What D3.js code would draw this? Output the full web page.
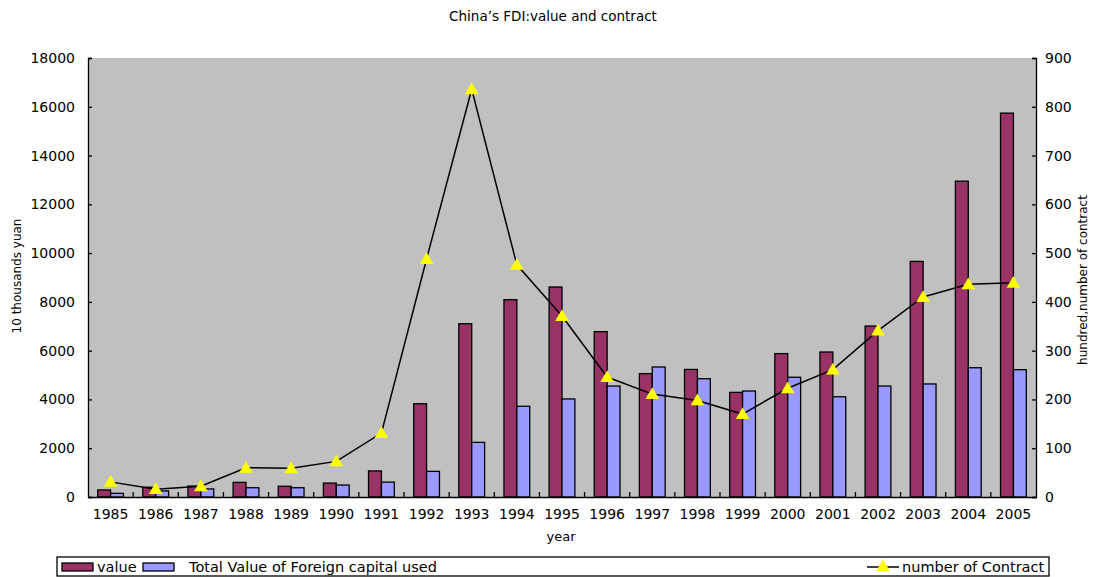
<!DOCTYPE html>
<html>
<head>
<meta charset="utf-8">
<script src="https://cdn.jsdelivr.net/npm/d3@7"></script>
<style>
  html, body { margin: 0; padding: 0; background: #fff; }
  svg text { font-family: "DejaVu Sans", sans-serif; fill: #000; }
</style>
</head>
<body>
<svg id="chart" width="1097" height="577"></svg>
<script>
// China's FDI, 1985–2005
const years = [1985,1986,1987,1988,1989,1990,1991,1992,1993,1994,1995,1996,1997,1998,1999,2000,2001,2002,2003,2004,2005];
const fdiValue = [290,400,450,600,440,570,1070,3825,7105,8090,8610,6780,5060,5230,4290,5880,5945,7010,9660,12950,15740];
const foreignCapitalUsed = [150,250,330,380,380,490,610,1050,2240,3720,4020,4550,5330,4850,4345,4910,4110,4550,4635,5300,5220];
const contracts = [31,16,22,60,59,73,131,488,836,476,371,246,211,198,170,223,261,341,410,436,439];
const leftTicks = [0,2000,4000,6000,8000,10000,12000,14000,16000,18000];
const rightTicks = [0,100,200,300,400,500,600,700,800,900];

const svg = d3.select("#chart");
const plot = { left: 88, right: 1036, top: 58, bottom: 497 };

const x = d3.scaleBand().domain(years).range([plot.left, plot.right]);
const yL = d3.scaleLinear().domain([0, 18000]).range([plot.bottom, plot.top]);
const yR = d3.scaleLinear().domain([0, 900]).range([plot.bottom, plot.top]);

// bar width for a 150% gap between clusters
const bw = x.bandwidth() / 3.5;

// plot background
svg.append("rect")
  .attr("x", plot.left).attr("y", plot.top)
  .attr("width", plot.right - plot.left).attr("height", plot.bottom - plot.top)
  .attr("fill", "#c0c0c0").attr("stroke", "none");

// title
svg.append("text").attr("x", 553).attr("y", 21).attr("text-anchor", "middle")
  .style("font-size", "13.5px").text("China’s FDI:value and contract");

// bars
const barG = svg.append("g");
barG.selectAll("rect.v").data(years).join("rect").attr("class", "v")
  .attr("x", d => x(d) + x.bandwidth() / 2 - bw)
  .attr("y", (d, i) => yL(fdiValue[i]))
  .attr("width", bw)
  .attr("height", (d, i) => plot.bottom - yL(fdiValue[i]))
  .attr("fill", "#993366").attr("stroke", "#000").attr("stroke-width", 1.3);
barG.selectAll("rect.c").data(years).join("rect").attr("class", "c")
  .attr("x", d => x(d) + x.bandwidth() / 2)
  .attr("y", (d, i) => yL(foreignCapitalUsed[i]))
  .attr("width", bw)
  .attr("height", (d, i) => plot.bottom - yL(foreignCapitalUsed[i]))
  .attr("fill", "#9999ff").attr("stroke", "#000").attr("stroke-width", 1.3);

// contract line
const line = d3.line()
  .x((d, i) => x(years[i]) + x.bandwidth() / 2)
  .y(d => yR(d));
svg.append("path").datum(contracts).attr("d", line)
  .attr("fill", "none").attr("stroke", "#000").attr("stroke-width", 1.5);

const tri = d3.symbol().type(d3.symbolTriangle).size(80);
svg.selectAll("path.m").data(contracts).join("path").attr("class", "m")
  .attr("d", tri)
  .attr("transform", (d, i) => `translate(${x(years[i]) + x.bandwidth() / 2},${yR(d) + 1})`)
  .attr("fill", "#ffff00");

// axes
const axL = svg.append("g").attr("transform", `translate(${plot.left},0)`)
  .call(d3.axisLeft(yL).tickValues(leftTicks).tickSize(-4).tickPadding(13).tickFormat(d3.format("d")));
const axR = svg.append("g").attr("transform", `translate(${plot.right},0)`)
  .call(d3.axisRight(yR).tickValues(rightTicks).tickSize(-4).tickPadding(9).tickFormat(d3.format("d")));
const axB = svg.append("g").attr("transform", `translate(0,${plot.bottom})`)
  .call(d3.axisBottom(x).tickSize(0).tickPadding(12));

[axL, axR, axB].forEach(g => {
  g.select(".domain").attr("stroke", "#000").attr("stroke-width", 1.3);
  g.selectAll(".tick line").attr("stroke", "#000").attr("stroke-width", 1.3);
  g.selectAll(".tick text").style("font-size", "14px").attr("fill", "#000");
});

// category boundary ticks on the x axis
svg.append("g").selectAll("line").data(years.slice(1)).join("line")
  .attr("x1", d => x(d)).attr("x2", d => x(d))
  .attr("y1", plot.bottom).attr("y2", plot.bottom - 5)
  .attr("stroke", "#000").attr("stroke-width", 1.3);

// axis titles
svg.append("text").attr("x", 561).attr("y", 541).attr("text-anchor", "middle")
  .style("font-size", "13px").text("year");
svg.append("text").attr("transform", "translate(21,276) rotate(-90)").attr("text-anchor", "middle")
  .style("font-size", "12px").text("10 thousands yuan");
svg.append("text").attr("transform", "translate(1087,280) rotate(-90)").attr("text-anchor", "middle")
  .style("font-size", "12px").text("hundred,number of contract");

// legend
const lg = svg.append("g");
lg.append("rect").attr("x", 57).attr("y", 557).attr("width", 992).attr("height", 19)
  .attr("fill", "#fff").attr("stroke", "#000").attr("stroke-width", 1.3);
lg.append("rect").attr("x", 62).attr("y", 563).attr("width", 31).attr("height", 8)
  .attr("fill", "#993366").attr("stroke", "#000").attr("stroke-width", 1.3);
lg.append("text").attr("x", 97).attr("y", 572).style("font-size", "14.5px").text("value");
lg.append("rect").attr("x", 143).attr("y", 563).attr("width", 31).attr("height", 8)
  .attr("fill", "#9999ff").attr("stroke", "#000").attr("stroke-width", 1.3);
lg.append("text").attr("x", 189).attr("y", 572).style("font-size", "14.5px").text("Total Value of Foreign capital used");
lg.append("line").attr("x1", 867).attr("x2", 899).attr("y1", 567).attr("y2", 567)
  .attr("stroke", "#000").attr("stroke-width", 1.5);
lg.append("path").attr("d", tri).attr("transform", "translate(883,567)").attr("fill", "#ffff00");
lg.append("text").attr("x", 902).attr("y", 572).style("font-size", "14.5px").text("number of Contract");
</script>
</body>
</html>
